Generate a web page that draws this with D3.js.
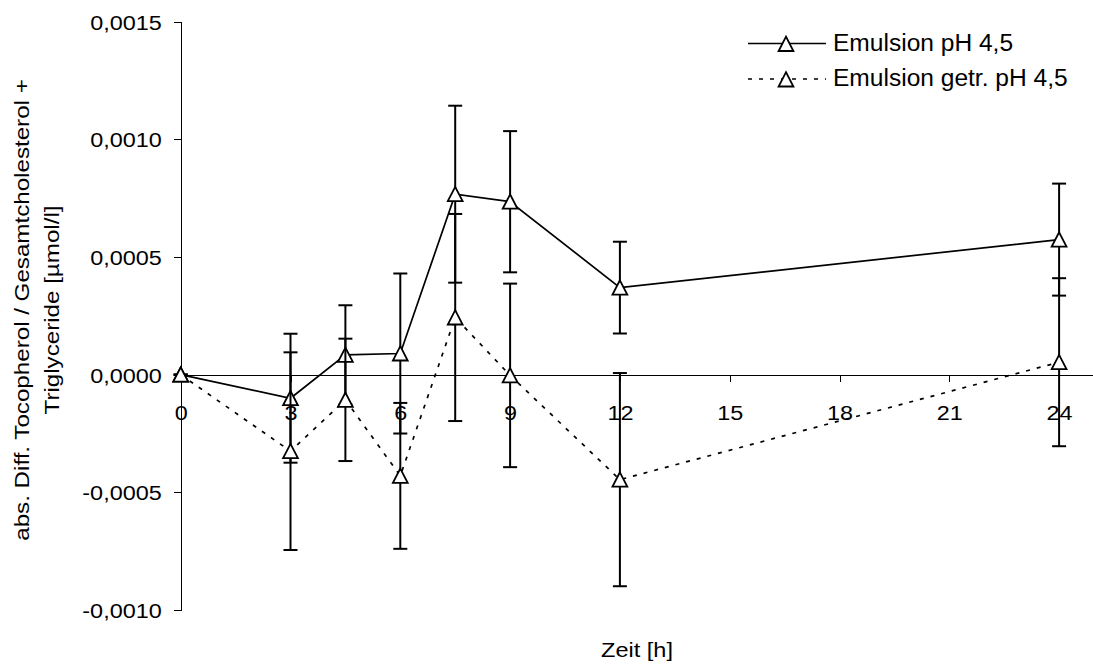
<!DOCTYPE html>
<html>
<head>
<meta charset="utf-8">
<script src="https://cdn.jsdelivr.net/npm/d3@7/dist/d3.min.js"></script>
<style>
  html, body { margin: 0; padding: 0; background: #fff; }
  svg { display: block; font-family: Arial, "Liberation Sans", sans-serif; }
  text { fill: #000; }
  .ytick text, .xtick text { font-size: 20px; }
  .legend text { font-size: 23px; }
  .title { font-size: 21px; }
</style>
</head>
<body>
<svg id="chart" width="1093" height="666"></svg>
<script>
// Sampling times [h]
const times = [0, 3, 4.5, 6, 7.5, 9, 12, 24];

// Emulsion pH 4,5 — mean and error
const emulsion = [0, -0.0001, 0.000084, 0.00009, 0.000767, 0.000735, 0.00037, 0.000574];
const emulsionErr = [0, 0.000274, 0.000211, 0.00034, 0.000376, 0.0003, 0.000195, 0.000238];

// Emulsion getr. pH 4,5 — mean and error
const emulsionGetr = [0, -0.000325, -0.000107, -0.00043, 0.000243, -0.000003, -0.000446, 0.000053];
const emulsionGetrErr = [0, 0.00042, 0.00026, 0.00031, 0.00044, 0.00039, 0.000453, 0.000357];

// Axis ticks
const xTicks = [0, 3, 6, 9, 12, 15, 18, 21, 24];
const yTicks = [-0.001, -0.0005, 0, 0.0005, 0.001, 0.0015];

const seriesNames = ["Emulsion pH 4,5", "Emulsion getr. pH 4,5"];

const svg = d3.select("#chart");

const x = d3.scaleLinear().domain([0, 25]).range([180.7, 1095.7]);
const y = d3.scaleLinear().domain([-0.001, 0.0015]).range([610, 21.7]);

const de = d3.formatLocale({ decimal: ",", thousands: ".", grouping: [3], currency: ["", " €"], minus: "-" });
const fmt = de.format(".4f");

// Widen glyphs horizontally (wide GDI-style text) by stretching each text to a longer length
function widen(sel, k) {
  sel.each(function () {
    const w = this.getComputedTextLength();
    d3.select(this).attr("textLength", w * k).attr("lengthAdjust", "spacingAndGlyphs");
  });
}

// Y axis
const yAxis = svg.append("g")
  .attr("class", "ytick")
  .attr("transform", `translate(${x(0)},0)`)
  .call(d3.axisLeft(y).tickValues(yTicks).tickSize(7).tickSizeOuter(0).tickPadding(12).tickFormat(fmt));
yAxis.selectAll("text").attr("dy", "0.37em");
widen(yAxis.selectAll("text"), 1.17);

// X axis on the zero line
const xAxis = svg.append("g")
  .attr("class", "xtick")
  .attr("transform", `translate(0,${y(0)})`)
  .call(d3.axisBottom(x).tickValues(xTicks).tickSize(7).tickSizeOuter(0).tickPadding(24).tickFormat(d3.format("d")));
widen(xAxis.selectAll("text"), 1.17);

svg.selectAll(".ytick path, .ytick line, .xtick path, .xtick line")
  .attr("stroke", "#000").attr("stroke-width", 1).attr("shape-rendering", "crispEdges");

// Axis titles
const xTitle = svg.append("text").attr("class", "title")
  .attr("x", 637).attr("y", 656.5).attr("text-anchor", "middle").text("Zeit [h]");
widen(xTitle, 1.12);

const yTitle = svg.append("g").attr("transform", "translate(0,310)");
const t1 = yTitle.append("g").attr("transform", "translate(29,0) rotate(-90)")
  .append("text").attr("class", "title").attr("text-anchor", "middle")
  .text("abs. Diff. Tocopherol / Gesamtcholesterol +");
const t2 = yTitle.append("g").attr("transform", "translate(59,0) rotate(-90)")
  .append("text").attr("class", "title").attr("text-anchor", "middle")
  .text("Triglyceride [µmol/l]");
widen(t1, 1.15);
widen(t2, 1.15);

// Series
const series = [
  { name: seriesNames[0], values: emulsion, errs: emulsionErr, dash: null },
  { name: seriesNames[1], values: emulsionGetr, errs: emulsionGetrErr, dash: "4,7" }
];

const tri = "M0,-7.3L7.4,7L-7.4,7Z";

const line = d3.line().x(d => x(d.t)).y(d => y(d.v));

series.forEach(s => {
  const pts = times.map((t, i) => ({ t, v: s.values[i], e: s.errs[i] }));
  const g = svg.append("g");

  // error bars
  const eb = g.selectAll(".eb").data(pts).enter().append("g");
  eb.append("line")
    .attr("x1", d => x(d.t)).attr("x2", d => x(d.t))
    .attr("y1", d => y(d.v + d.e)).attr("y2", d => y(d.v - d.e))
    .attr("stroke", "#000").attr("stroke-width", 2);
  [1, -1].forEach(sign => {
    eb.append("line")
      .attr("x1", d => x(d.t) - 7).attr("x2", d => x(d.t) + 7)
      .attr("y1", d => y(d.v + sign * d.e)).attr("y2", d => y(d.v + sign * d.e))
      .attr("stroke", "#000").attr("stroke-width", 2);
  });

  // connecting line
  g.append("path").datum(pts)
    .attr("d", line)
    .attr("fill", "none").attr("stroke", "#000").attr("stroke-width", 1.7)
    .attr("stroke-dasharray", s.dash);

  // markers
  g.selectAll(".mk").data(pts).enter().append("path")
    .attr("d", tri)
    .attr("transform", d => `translate(${x(d.t)},${y(d.v)})`)
    .attr("fill", "#fff").attr("stroke", "#000").attr("stroke-width", 1.8);
});

// Legend
const legend = svg.append("g").attr("class", "legend");
series.forEach((s, i) => {
  const ly = 43.5 + i * 35.5;
  legend.append("line")
    .attr("x1", 748).attr("x2", 826).attr("y1", ly).attr("y2", ly)
    .attr("stroke", "#000").attr("stroke-width", 1.7).attr("stroke-dasharray", s.dash);
  legend.append("path").attr("d", tri)
    .attr("transform", `translate(786,${ly + 0.5})`)
    .attr("fill", "#fff").attr("stroke", "#000").attr("stroke-width", 1.8);
  const lt = legend.append("text").attr("x", 833).attr("y", ly + 7).text(s.name);
  widen(lt, 1.067);
});
</script>
</body>
</html>
